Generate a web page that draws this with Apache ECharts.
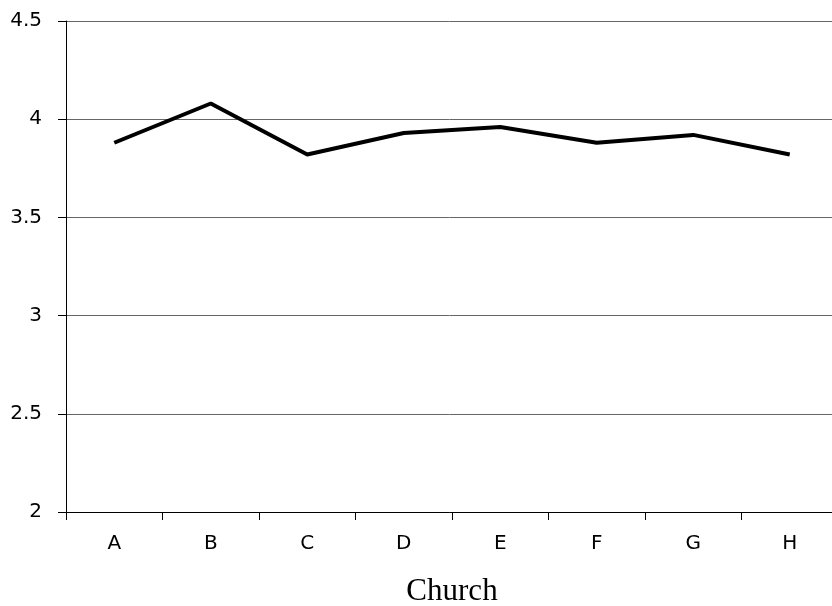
<!DOCTYPE html>
<html>
<head>
<meta charset="utf-8">
<script src="https://cdn.jsdelivr.net/npm/echarts@6/dist/echarts.min.js"></script>
<style>
html,body{margin:0;padding:0;background:#fff;}
#chart{width:832px;height:606px;}
</style>
</head>
<body>
<div id="chart"></div>
<script>
const categories = ['A','B','C','D','E','F','G','H'];
const values = [3.88, 4.08, 3.82, 3.93, 3.96, 3.88, 3.92, 3.82];
const yTicks = [2, 2.5, 3, 3.5, 4, 4.5];
const xTitle = 'Church';

const chart = echarts.init(document.getElementById('chart'));
chart.setOption({
  animation: false,
  backgroundColor: '#fff',
  grid: { left: 66, top: 21, width: 772, height: 491, containLabel: false, outerBoundsMode: 'none' },
  xAxis: {
    type: 'category',
    data: categories,
    boundaryGap: true,
    name: xTitle,
    nameLocation: 'middle',
    nameGap: 64,
    nameTextStyle: { fontFamily: 'Liberation Serif', fontSize: 31, color: '#000' },
    axisLine: { lineStyle: { color: '#000', width: 1 } },
    axisTick: { show: true, length: 8, lineStyle: { color: '#000' } },
    axisLabel: { fontFamily: 'DejaVu Sans', fontSize: 20, color: '#000', margin: 22 },
    splitLine: { show: false }
  },
  yAxis: {
    type: 'value',
    min: yTicks[0],
    max: yTicks[yTicks.length - 1],
    interval: 0.5,
    axisLine: { show: true, lineStyle: { color: '#000', width: 1 } },
    axisTick: { show: true, length: 8, lineStyle: { color: '#000' } },
    axisLabel: { fontFamily: 'DejaVu Sans', fontSize: 20, color: '#000', margin: 24 },
    splitLine: { show: true, lineStyle: { color: '#666', width: 1 } }
  },
  series: [{
    type: 'line',
    data: values,
    symbol: 'none',
    lineStyle: { color: '#000', width: 4 },
    itemStyle: { color: '#000' }
  }]
});
</script>
</body>
</html>
